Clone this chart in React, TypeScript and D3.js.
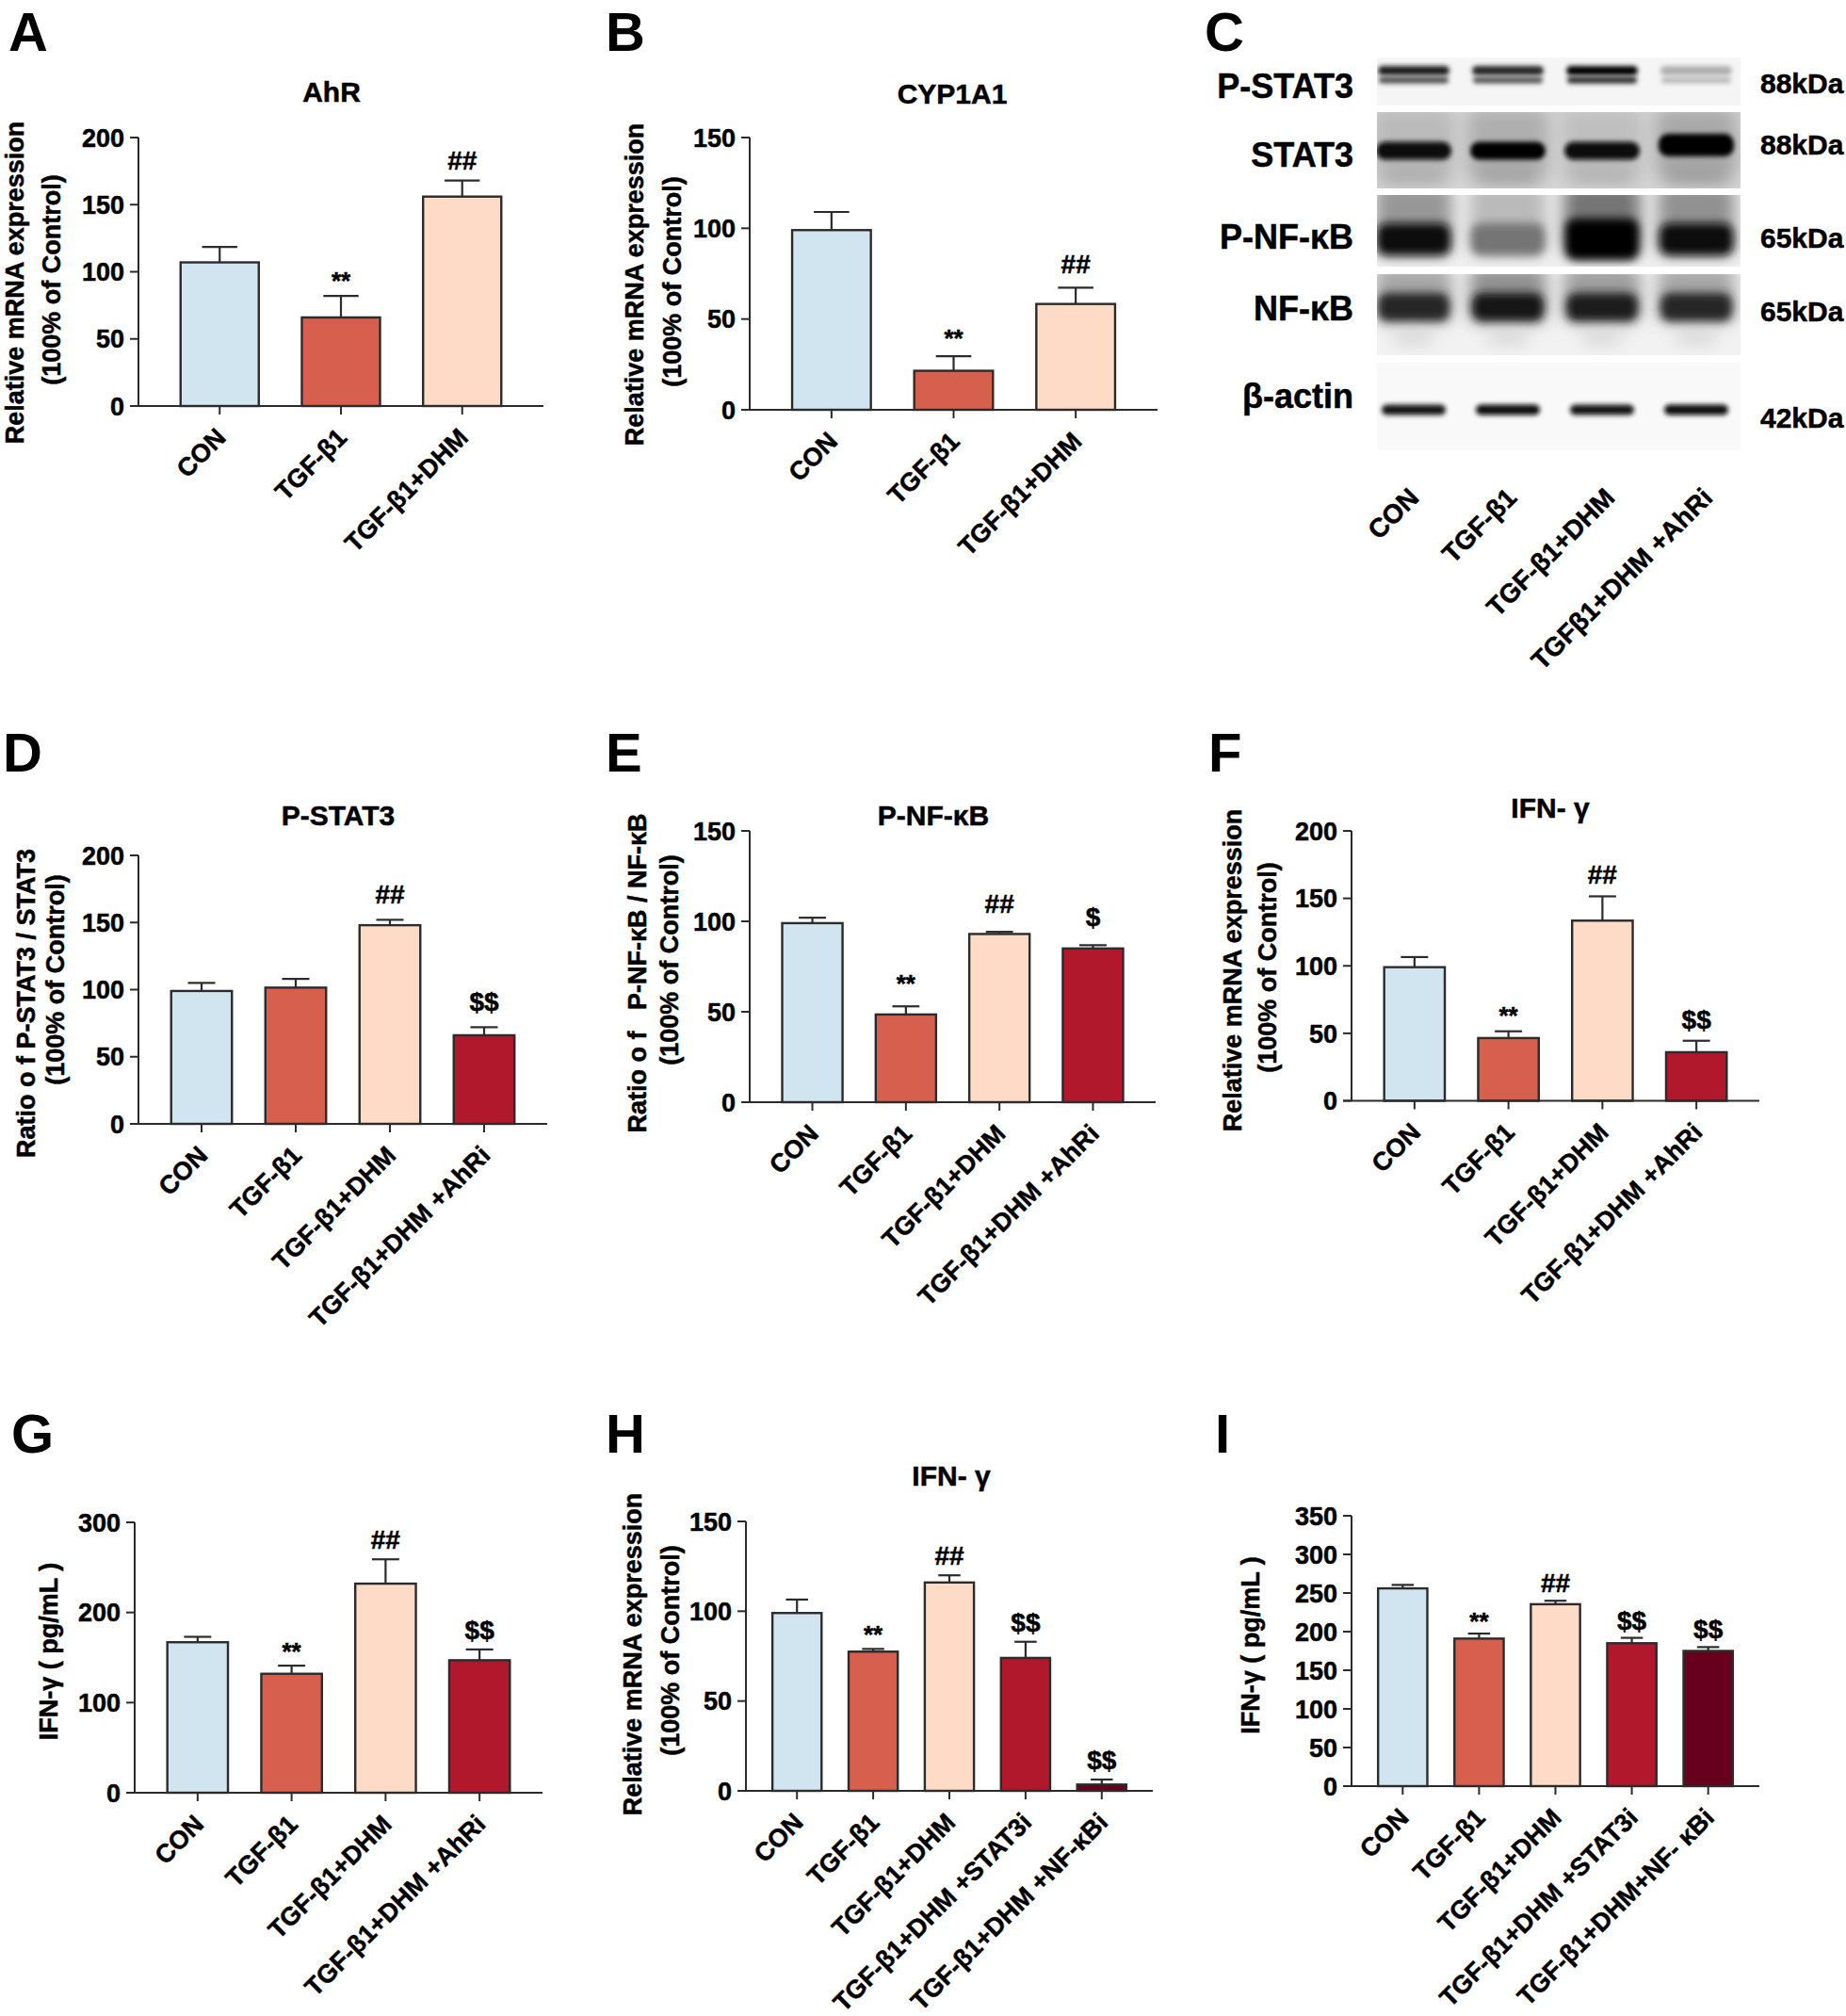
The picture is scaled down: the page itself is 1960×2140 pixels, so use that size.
import React from "react";
import * as d3 from "d3";

const FONT = "'Liberation Sans', Arial, Helvetica, sans-serif";
const FILLS = ["#d1e5f0", "#d6604d", "#fddbc7", "#b2182b", "#67001f"];
const INK = "#2b2b2b";

// ---------------- data ----------------
const groups3 = ["CON", "TGF-β1", "TGF-β1+DHM"];
const groups4 = ["CON", "TGF-β1", "TGF-β1+DHM", "TGF-β1+DHM +AhRi"];
const groupsH = ["CON", "TGF-β1", "TGF-β1+DHM", "TGF-β1+DHM +STAT3i", "TGF-β1+DHM +NF-κBi"];
const groupsI = ["CON", "TGF-β1", "TGF-β1+DHM", "TGF-β1+DHM +STAT3i", "TGF-β1+DHM+NF- κBi"];
const lanesC = ["CON", "TGF-β1", "TGF-β1+DHM", "TGFβ1+DHM +AhRi"];

const ahrMean = [107, 66, 156];
const ahrErr = [11.5, 16, 12];
const ahrSig = ["", "**", "##"];

const cypMean = [99, 21.5, 58.3];
const cypErr = [10, 8, 9];
const cypSig = ["", "**", "##"];

const pStat3Mean = [99, 101.5, 148, 66];
const pStat3Err = [6, 6.5, 4, 6];
const pStat3Sig = ["", "", "##", "$$"];

const pNfkbMean = [99, 48.5, 93, 85];
const pNfkbErr = [3, 4.5, 1.2, 1.8];
const pNfkbSig = ["", "**", "##", "$"];

const ifnMrnaMean = [99, 46.5, 133.5, 36];
const ifnMrnaErr = [7.5, 5, 18, 8.5];
const ifnMrnaSig = ["", "**", "##", "$$"];

const ifnProtMean = [167, 132, 232, 147];
const ifnProtErr = [6, 9, 27, 12];
const ifnProtSig = ["", "**", "##", "$$"];

const ifnMrnaInhMean = [99, 77.5, 116, 74, 3.5];
const ifnMrnaInhErr = [7.5, 1.5, 4, 9, 2.8];
const ifnMrnaInhSig = ["", "**", "##", "$$", "$$"];

const ifnProtInhMean = [256, 191, 235.5, 185, 175];
const ifnProtInhErr = [4.5, 6.5, 4.5, 7, 5];
const ifnProtInhSig = ["", "**", "##", "$$", "$$"];

const ticks200 = [0, 50, 100, 150, 200];
const ticks150 = [0, 50, 100, 150];
const ticks300 = [0, 100, 200, 300];
const ticks350 = [0, 50, 100, 150, 200, 250, 300, 350];

// western blot band intensities (0 = none, 1 = black)
const blotRows = ["P-STAT3", "STAT3", "P-NF-κB", "NF-κB", "β-actin"];
const blotKda = ["88kDa", "88kDa", "65kDa", "65kDa", "42kDa"];
const pStat3Upper = [0.9, 0.88, 0.98, 0.42];
const pStat3Lower = [0.76, 0.74, 0.88, 0.38];
const stat3Band = [0.97, 0.98, 0.97, 0.99];
const stat3Smear = [0.38, 0.42, 0.36, 0.44];
const pNfkbBand = [0.95, 0.62, 1.0, 0.97];
const pNfkbSmear = [0.5, 0.38, 0.62, 0.52];
const nfkbBand = [0.88, 0.92, 0.9, 0.88];
const nfkbSmear = [0.45, 0.52, 0.48, 0.45];
const actinBand = [0.94, 0.96, 0.94, 0.96];

// ---------------- layout ----------------
type Panel = {
  letter: string; letterX: number; letterY: number;
  x0: number; x1: number; yTop: number; yBottom: number;
  ticks: number[]; cats: string[]; mean: number[]; err: number[]; sig: string[];
  title?: string; titleX?: number; titleY?: number;
  yLines: string[]; yLineX: number[]; yLineCY: number[];
  sigGap: number;
};

const panels: Panel[] = [
  { letter: "A", letterX: 9, letterY: 54, x0: 147, x1: 577, yTop: 146, yBottom: 431, ticks: ticks200,
    cats: groups3, mean: ahrMean, err: ahrErr, sig: ahrSig, title: "AhR", titleX: 352, titleY: 108,
    yLines: ["Relative mRNA expression", "(100% of Control)"], yLineX: [25, 64], yLineCY: [300, 297], sigGap: 22 },
  { letter: "B", letterX: 643, letterY: 54, x0: 796, x1: 1229, yTop: 146, yBottom: 435, ticks: ticks150,
    cats: groups3, mean: cypMean, err: cypErr, sig: cypSig, title: "CYP1A1", titleX: 1011, titleY: 110,
    yLines: ["Relative mRNA expression", "(100% of Control)"], yLineX: [683, 723], yLineCY: [302, 299], sigGap: 25 },
  { letter: "D", letterX: 3, letterY: 819, x0: 147, x1: 581, yTop: 908, yBottom: 1193, ticks: ticks200,
    cats: groups4, mean: pStat3Mean, err: pStat3Err, sig: pStat3Sig, title: "P-STAT3", titleX: 359, titleY: 876,
    yLines: ["Ratio o f P-STAT3 / STAT3", "(100% of Control)"], yLineX: [37, 68], yLineCY: [1065, 1040], sigGap: 27 },
  { letter: "E", letterX: 643, letterY: 819, x0: 796, x1: 1227, yTop: 882, yBottom: 1170, ticks: ticks150,
    cats: groups4, mean: pNfkbMean, err: pNfkbErr, sig: pNfkbSig, title: "P-NF-κB", titleX: 991, titleY: 876,
    yLines: ["Ratio o f   P-NF-κB / NF-κB", "(100% of Control)"], yLineX: [686, 720], yLineCY: [1033, 1019], sigGap: 30 },
  { letter: "F", letterX: 1283, letterY: 819, x0: 1435, x1: 1868, yTop: 882, yBottom: 1168.5, ticks: ticks200,
    cats: groups4, mean: ifnMrnaMean, err: ifnMrnaErr, sig: ifnMrnaSig, title: "IFN- γ", titleX: 1646, titleY: 868,
    yLines: ["Relative mRNA expression", "(100% of Control)"], yLineX: [1318, 1355], yLineCY: [1030, 1027], sigGap: 23 },
  { letter: "G", letterX: 12, letterY: 1542, x0: 143, x1: 576, yTop: 1616, yBottom: 1903, ticks: ticks300,
    cats: groups4, mean: ifnProtMean, err: ifnProtErr, sig: ifnProtSig,
    yLines: ["IFN-γ ( pg/mL )"], yLineX: [61], yLineCY: [1753], sigGap: 21 },
  { letter: "H", letterX: 643, letterY: 1542, x0: 792, x1: 1224, yTop: 1615, yBottom: 1901, ticks: ticks150,
    cats: groupsH, mean: ifnMrnaInhMean, err: ifnMrnaInhErr, sig: ifnMrnaInhSig, title: "IFN- γ", titleX: 1010, titleY: 1577,
    yLines: ["Relative mRNA expression", "(100% of Control)"], yLineX: [681, 721], yLineCY: [1756, 1752], sigGap: 21 },
  { letter: "I", letterX: 1290, letterY: 1542, x0: 1435, x1: 1868, yTop: 1609, yBottom: 1896, ticks: ticks350,
    cats: groupsI, mean: ifnProtInhMean, err: ifnProtInhErr, sig: ifnProtInhSig,
    yLines: ["IFN-γ ( pg/mL )"], yLineX: [1337], yLineCY: [1746.5], sigGap: 19 },
];

const TXT = { stroke: "#000", strokeWidth: 0.5, paintOrder: "stroke" as const };

function BarPanel({ p }: { p: Panel }) {
  const yMax = p.ticks[p.ticks.length - 1];
  const y = d3.scaleLinear().domain([0, yMax]).range([p.yBottom, p.yTop]);
  const x = d3.scalePoint<string>().domain(p.cats).range([p.x0, p.x1]).padding(0.67);
  const bw = x.step() * 0.645;
  const cap = bw * 0.45;
  return (
    <g>
      <text x={p.letterX} y={p.letterY} fontSize={58} fontWeight="bold" fill="#000">{p.letter}</text>
      {p.title && (
        <text x={p.titleX} y={p.titleY} textAnchor="middle" fontSize={30} fontWeight="bold" {...TXT} style={{ whiteSpace: "pre" }}>{p.title}</text>
      )}
      {p.yLines.map((l, i) => (
        <text key={i} transform={`translate(${p.yLineX[i]},${p.yLineCY[i]}) rotate(-90)`} textAnchor="middle"
          fontSize={27} fontWeight="bold" {...TXT} style={{ whiteSpace: "pre" }}>{l}</text>
      ))}
      {p.cats.map((c, i) => {
        const cx = x(c)!;
        const top = y(p.mean[i]);
        const et = y(p.mean[i] + p.err[i]);
        return (
          <g key={c}>
            <line x1={cx} x2={cx} y1={top} y2={et} stroke={INK} strokeWidth={2.2} />
            <line x1={cx - cap / 2} x2={cx + cap / 2} y1={et} y2={et} stroke={INK} strokeWidth={2.2} />
            <rect x={cx - bw / 2} y={top} width={bw} height={p.yBottom - top} fill={FILLS[i]} stroke={INK} strokeWidth={2.4} />
          </g>
        );
      })}
      {p.cats.map((c, i) => {
        const s = p.sig[i];
        if (!s) return null;
        const et = y(p.mean[i] + p.err[i]);
        const isStar = s.startsWith("*");
        const base = et - p.sigGap + (isStar ? 15 : 10);
        return (
          <text key={c} x={x(c)!} y={base} textAnchor="middle" fontSize={isStar ? 26 : 28} fontWeight="bold" {...TXT}>{s}</text>
        );
      })}
      <line x1={p.x0} x2={p.x0} y1={p.yTop} y2={p.yBottom} stroke={INK} strokeWidth={2} />
      <line x1={p.x0 - 9} x2={p.x1} y1={p.yBottom} y2={p.yBottom} stroke={INK} strokeWidth={2} />
      {p.ticks.map((t) => (
        <g key={t}>
          <line x1={p.x0 - 9} x2={p.x0} y1={y(t)} y2={y(t)} stroke={INK} strokeWidth={2} />
          <text x={p.x0 - 15} y={y(t) + 9.7} textAnchor="end" fontSize={27} fontWeight="bold" {...TXT}>{t}</text>
        </g>
      ))}
      {p.cats.map((c) => (
        <g key={c}>
          <line x1={x(c)!} x2={x(c)!} y1={p.yBottom} y2={p.yBottom + 9} stroke={INK} strokeWidth={2} />
          <text transform={`translate(${x(c)! + 8},${p.yBottom + 35}) rotate(-45)`} textAnchor="end"
            fontSize={27} fontWeight="bold" {...TXT} style={{ whiteSpace: "pre" }}>{c}</text>
        </g>
      ))}
    </g>
  );
}

type RowGeo = { top: number; bottom: number; bg: number; labelY: number; kdaY: number };
const rowGeo: RowGeo[] = [
  { top: 61, bottom: 112, bg: 0.08, labelY: 104, kdaY: 99 },
  { top: 119, bottom: 200, bg: 0.27, labelY: 177, kdaY: 164 },
  { top: 207, bottom: 283, bg: 0.11, labelY: 264, kdaY: 263 },
  { top: 291, bottom: 377, bg: 0.1, labelY: 340, kdaY: 341 },
  { top: 385, bottom: 478, bg: 0.05, labelY: 433, kdaY: 454 },
];

function Blot() {
  const bx0 = 1462, bx1 = 1848;
  const lane = d3.scalePoint<string>().domain(lanesC).range([1451, 1851]).padding(0.5);
  const labelX = d3.scalePoint<string>().domain(lanesC).range([1508, 1820]);
  const g = (t: number) => d3.interpolateGreys(t);
  const band = (key: string, cx: number, cy: number, w: number, h: number, t: number, filt: string) => (
    <rect key={key} x={cx - w / 2} y={cy - h / 2} width={w} height={h} rx={Math.min(h / 2, 10)} fill={g(t)} filter={`url(#${filt})`} />
  );
  return (
    <g>
      <defs>
        <filter id="b3" x="-30%" y="-150%" width="160%" height="400%"><feGaussianBlur stdDeviation="2.8" /></filter>
        <filter id="b5" x="-30%" y="-100%" width="160%" height="300%"><feGaussianBlur stdDeviation="5" /></filter>
        <filter id="b9" x="-40%" y="-60%" width="180%" height="220%"><feGaussianBlur stdDeviation="9" /></filter>
        {rowGeo.map((r, i) => (
          <clipPath key={i} id={`rowclip${i}`}><rect x={bx0} y={r.top} width={bx1 - bx0} height={r.bottom - r.top} /></clipPath>
        ))}
      </defs>
      <text x={1279} y={54} fontSize={58} fontWeight="bold">C</text>
      {rowGeo.map((r, i) => (
        <g key={i}>
          <text x={1437} y={r.labelY} textAnchor="end" fontSize={36} fontWeight="bold" {...TXT}>{blotRows[i]}</text>
          <text x={1869} y={r.kdaY} fontSize={30} fontWeight="bold" {...TXT}>{blotKda[i]}</text>
          <g clipPath={`url(#rowclip${i})`}>
            <rect x={bx0} y={r.top} width={bx1 - bx0} height={r.bottom - r.top} fill={g(r.bg)} />
            {i === 0 && lanesC.map((l, j) => (
              <g key={l}>
                {band("u" + j, lane(l)!, 75, 76, 10, pStat3Upper[j], "b3")}
                {band("l" + j, lane(l)!, 85, 74, 7, pStat3Lower[j], "b3")}
              </g>
            ))}
            {i === 1 && lanesC.map((l, j) => (
              <g key={l}>
                {band("s" + j, lane(l)!, 150, 86, 70, stat3Smear[j], "b9")}
                {band("s2" + j, lane(l)!, 186, 72, 18, stat3Smear[j] + 0.06, "b9")}
                {band("b" + j, lane(l)!, j === 3 ? 154 : 160, 80, j === 3 ? 24 : 19, stat3Band[j], "b3")}
              </g>
            ))}
            {i === 2 && lanesC.map((l, j) => (
              <g key={l}>
                {band("s" + j, lane(l)!, 232, 82, 78, pNfkbSmear[j], "b9")}
                {band("b" + j, lane(l)!, 254, 78, j === 2 ? 44 : 34, pNfkbBand[j], "b5")}
              </g>
            ))}
            {i === 3 && lanesC.map((l, j) => (
              <g key={l}>
                {band("s" + j, lane(l)!, 312, 82, 60, nfkbSmear[j], "b9")}
                {band("s2" + j, lane(l)!, 356, 44, 22, 0.24, "b9")}
                {band("b" + j, lane(l)!, 326, 76, 30, nfkbBand[j], "b5")}
              </g>
            ))}
            {i === 4 && lanesC.map((l, j) => (
              <g key={l}>{band("b" + j, lane(l)!, 435, 68, 11, actinBand[j], "b3")}</g>
            ))}
          </g>
        </g>
      ))}
      {lanesC.map((l) => (
        <text key={l} transform={`translate(${labelX(l)},${530}) rotate(-45)`} textAnchor="end" fontSize={28} fontWeight="bold"
          {...TXT} style={{ whiteSpace: "pre" }}>{l}</text>
      ))}
    </g>
  );
}

export default function App() {
  if (typeof document !== "undefined") {
    document.body.style.margin = "0";
  }
  return (
    <svg width={1960} height={2140} viewBox="0 0 1960 2140" style={{ display: "block", background: "#fff" }}
      fontFamily={FONT} fill="#000">
      <rect x={0} y={0} width={1960} height={2140} fill="#fff" />
      {panels.map((p) => <BarPanel key={p.letter} p={p} />)}
      <Blot />
    </svg>
  );
}
